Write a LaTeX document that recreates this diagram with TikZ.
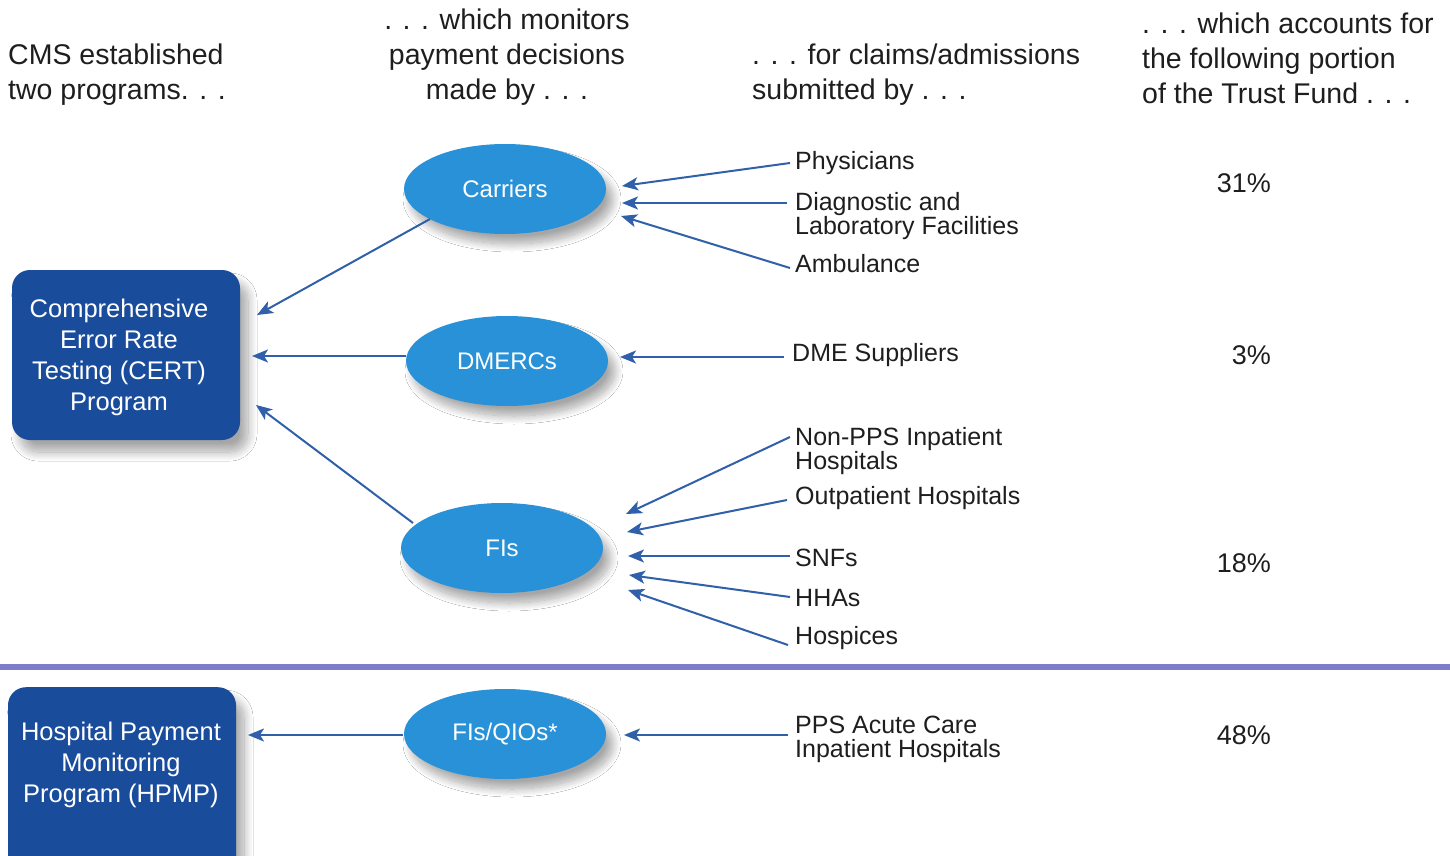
\documentclass[tikz,border=0pt]{standalone}
\usepackage{fontspec}
\setmainfont{Liberation Sans}
\usetikzlibrary{arrows.meta,shadows.blur,shapes.geometric}
\definecolor{boxblue}{RGB}{26,76,156}
\definecolor{ellblue}{RGB}{40,145,215}
\definecolor{arrblue}{RGB}{48,96,170}
\definecolor{divider}{RGB}{125,125,200}
\definecolor{txt}{RGB}{30,30,30}
\tikzset{
  head/.style={font=\fontsize{28.5}{35}\selectfont, text=txt, inner sep=0pt},
  lbl/.style={font=\fontsize{25}{20}\selectfont, text=txt, inner sep=0pt, anchor=west, align=left},
  pct/.style={font=\fontsize{27}{30}\selectfont, text=txt, inner sep=0pt, anchor=east},
  progbox/.style={draw=none, fill=boxblue, rounded corners=18pt, minimum width=228pt,
     blur shadow={shadow xshift=8pt, shadow yshift=-12pt, shadow blur steps=16, shadow opacity=35, shadow blur radius=9pt}},
  boxtext/.style={font=\fontsize{25.5}{31}\selectfont, text=white, align=center, inner sep=0pt},
  ell/.style={ellipse, fill=ellblue, minimum width=202pt, minimum height=90pt, inner sep=0pt,
     font=\fontsize{24}{28}\selectfont, text=white,
     blur shadow={shadow xshift=7pt, shadow yshift=-10pt, shadow blur steps=16, shadow opacity=35, shadow blur radius=8pt}},
  conn/.style={draw=arrblue, line width=2pt, -{Stealth[length=16pt,width=13pt,inset=4pt]}},
}
\begin{document}
\begin{tikzpicture}[x=1pt,y=-1pt]
\useasboundingbox (0,0) rectangle (1450,856);
\fill[white] (0,0) rectangle (1450,856);

% headers
\node[head, anchor=west, align=left] (h1) at (8,75) {CMS established\\two programs. . .};
\node[head, align=center] (h2) at (507,57) {. . . which monitors\\payment decisions\\made by . . .};
\node[head, anchor=west, align=left] (h3) at (752,75) {. . . for claims/admissions\\submitted by . . .};
\node[head, anchor=west, align=left] (h4) at (1142,58) {. . . which accounts for\\the following portion\\of the Trust Fund . . .};

% divider
\draw[divider, line width=6pt] (0,667) -- (1450,667);

% program boxes
\node[progbox, minimum height=170pt] (cert) at (126,355) {};
\node[boxtext] (certtext) at (119,357) {Comprehensive\\Error Rate\\Testing (CERT)\\Program};
\node[progbox, minimum height=190pt, anchor=north] (hpmp) at (122,687) {};
\node[boxtext] (hpmptext) at (121,765) {Hospital Payment\\Monitoring\\Program (HPMP)};

% ellipses
\node[ell] (carriers) at (505,189) {Carriers};
\node[ell] (dmercs) at (507,361) {DMERCs};
\node[ell] (fis) at (502,548) {FIs};
\node[ell] (fisqio) at (505,734) {FIs/QIOs*};

% labels
\node[lbl] (phys) at (795,163) {Physicians};
\node[lbl, anchor=north west] (diag) at (795,192) {Diagnostic and\\Laboratory Facilities};
\node[lbl] (amb) at (795,264) {Ambulance};
\node[lbl] (dme) at (792,355) {DME Suppliers};
\node[lbl, anchor=north west] (nonpps) at (795,427) {Non-PPS Inpatient\\Hospitals};
\node[lbl] (outp) at (795,498) {Outpatient Hospitals};
\node[lbl] (snf) at (795,558) {SNFs};
\node[lbl] (hha) at (795,598) {HHAs};
\node[lbl] (hosp) at (795,638) {Hospices};
\node[lbl, anchor=north west, font=\fontsize{25}{24}\selectfont] (pps) at (795,716) {PPS Acute Care\\Inpatient Hospitals};

% percentages
\node[pct] (p31) at (1271,183) {31\%};
\node[pct] (p3) at (1271,355) {3\%};
\node[pct] (p18) at (1271,563) {18\%};
\node[pct] (p48) at (1271,735) {48\%};

% connector end points
\coordinate (cA) at (257,315);
\coordinate (cB) at (252,356);
\coordinate (cC) at (256,405);
\coordinate (hA) at (248,735);
\coordinate (k1) at (622,186);
\coordinate (k2) at (622,203);
\coordinate (k3) at (621,216);
\coordinate (d1) at (620,357);
\coordinate (f1) at (626,514);
\coordinate (f2) at (627,532);
\coordinate (f3) at (628,556);
\coordinate (f4) at (629,575);
\coordinate (f5) at (628,590);
\coordinate (q1) at (624,735);
\coordinate (sPhys) at (790,163);
\coordinate (sDiag) at (787,203);
\coordinate (sAmb) at (790,268);
\coordinate (sDme) at (784,357);
\coordinate (sNon) at (790,437);
\coordinate (sOut) at (787,500);
\coordinate (sSnf) at (790,556);
\coordinate (sHha) at (790,597);
\coordinate (sHosp) at (788,645);
\coordinate (sPps) at (788,735);
\coordinate (eCar) at (430,219);
\coordinate (eDme) at (406,356);
\coordinate (eFis) at (413,523);
\coordinate (eQio) at (403,735);

% connectors
\draw[conn] (eCar) -- (cA);
\draw[conn] (eDme) -- (cB);
\draw[conn] (eFis) -- (cC);
\draw[conn] (eQio) -- (hA);
\draw[conn] (sPhys) -- (k1);
\draw[conn] (sDiag) -- (k2);
\draw[conn] (sAmb) -- (k3);
\draw[conn] (sDme) -- (d1);
\draw[conn] (sNon) -- (f1);
\draw[conn] (sOut) -- (f2);
\draw[conn] (sSnf) -- (f3);
\draw[conn] (sHha) -- (f4);
\draw[conn] (sHosp) -- (f5);
\draw[conn] (sPps) -- (q1);
\end{tikzpicture}
\end{document}
